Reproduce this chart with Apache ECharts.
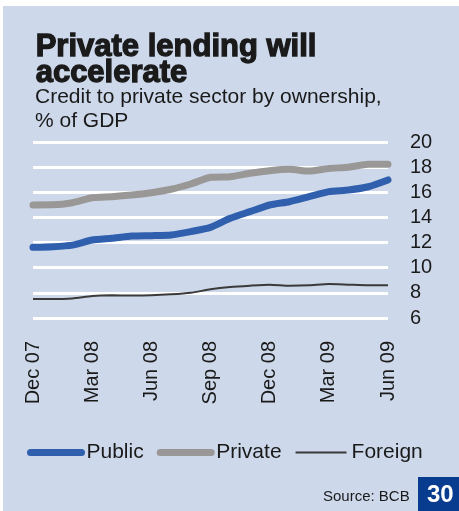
<!DOCTYPE html>
<html><head><meta charset="utf-8">
<script src="https://cdn.jsdelivr.net/npm/echarts@6/dist/echarts.min.js"></script>
<style>html,body{margin:0;padding:0;background:#fff}#c{width:459px;height:511px}</style>
</head><body><div id="c"></div>
<script>
const categories = ["Dec 07","Jan 08","Feb 08","Mar 08","Apr 08","May 08","Jun 08","Jul 08","Aug 08","Sep 08","Oct 08","Nov 08","Dec 08","Jan 09","Feb 09","Mar 09","Apr 09","May 09","Jun 09"];
const shownLabels = ["Dec 07","Mar 08","Jun 08","Sep 08","Dec 08","Mar 09","Jun 09"];
const publicVals  = [11.62,11.67,11.80,12.20,12.34,12.52,12.55,12.60,12.87,13.21,13.93,14.46,14.99,15.25,15.65,16.05,16.18,16.44,16.98];
const privateVals = [14.99,15.00,15.17,15.57,15.65,15.78,15.97,16.24,16.66,17.19,17.24,17.51,17.72,17.83,17.69,17.90,17.99,18.23,18.23];
const foreignVals = [7.51,7.51,7.56,7.75,7.80,7.78,7.80,7.88,8.01,8.28,8.46,8.57,8.65,8.57,8.60,8.70,8.65,8.60,8.60];
const yTicks = [6,8,10,12,14,16,18,20];

const BG = '#cdd8ea';
const FONT = 'Liberation Sans, Arial, sans-serif';
const chart = echarts.init(document.getElementById('c'), null, {renderer:'canvas'});
chart.setOption({
  backgroundColor: '#ffffff',
  animation: false,
  textStyle: {fontFamily: FONT},
  graphic: [
    {type:'rect', z:-10, shape:{x:3, y:6, width:456, height:505}, style:{fill:BG}},
    {type:'text', left:35, top:31, style:{text:'Private lending will\naccelerate', font:'bold 31px '+FONT, fill:'#1a1a1a', stroke:'#1a1a1a', lineWidth:1.3, lineHeight:26}},
    {type:'text', left:35, top:85, style:{text:'Credit to private sector by ownership,\n% of GDP', font:'21px '+FONT, fill:'#1a1a1a', lineHeight:24}},
    {type:'text', left:323, top:489, style:{text:'Source: BCB', font:'15px '+FONT, fill:'#1a1a1a'}},
    {type:'rect', shape:{x:418, y:477, width:41, height:34}, style:{fill:'#083c8f'}},
    {type:'text', left:427, top:483, style:{text:'30', font:'bold 24px '+FONT, fill:'#ffffff'}}
  ],
  grid: {left:33, right:71, top:142, bottom:193, containLabel:false},
  xAxis: {
    type:'category', data:categories, boundaryGap:false,
    axisLine:{show:false}, axisTick:{show:false}, splitLine:{show:false},
    axisLabel:{rotate:90, margin:23, fontSize:20, color:'#1a1a1a', interval:0,
      formatter: v => shownLabels.includes(v) ? v : ''}
  },
  yAxis: {
    type:'value', position:'right', min:6, max:20, interval:2,
    axisLine:{show:false}, axisTick:{show:false},
    splitLine:{show:true, lineStyle:{color:'#ffffff', width:3}},
    axisLabel:{margin:22, fontSize:20, color:'#1a1a1a',
      formatter: v => yTicks.includes(v) ? String(v) : ''}
  },
  legend: {
    left:27, top:442, itemWidth:51, itemHeight:14, itemGap:13, padding:0,
    textStyle:{fontSize:21, color:'#1a1a1a'},
    data:[
      {name:'Public', itemStyle:{opacity:0}, lineStyle:{color:'#2f5fad', width:7, cap:'round'}},
      {name:'Private', itemStyle:{opacity:0}, lineStyle:{color:'#9a9897', width:7, cap:'round'}},
      {name:'Foreign', itemStyle:{opacity:0}, lineStyle:{color:'#3a3a3a', width:2}}
    ]
  },
  series: [
    {name:'Public', type:'line', data:publicVals, symbol:'none', smooth:0.2,
      lineStyle:{color:'#2f5fad', width:7, cap:'round'}, itemStyle:{color:'#2f5fad'}},
    {name:'Private', type:'line', data:privateVals, symbol:'none', smooth:0.2,
      lineStyle:{color:'#9a9897', width:7, cap:'round'}, itemStyle:{color:'#9a9897'}},
    {name:'Foreign', type:'line', data:foreignVals, symbol:'none', smooth:0.2,
      lineStyle:{color:'#3a3a3a', width:2}, itemStyle:{color:'#3a3a3a'}}
  ]
});
</script></body></html>
